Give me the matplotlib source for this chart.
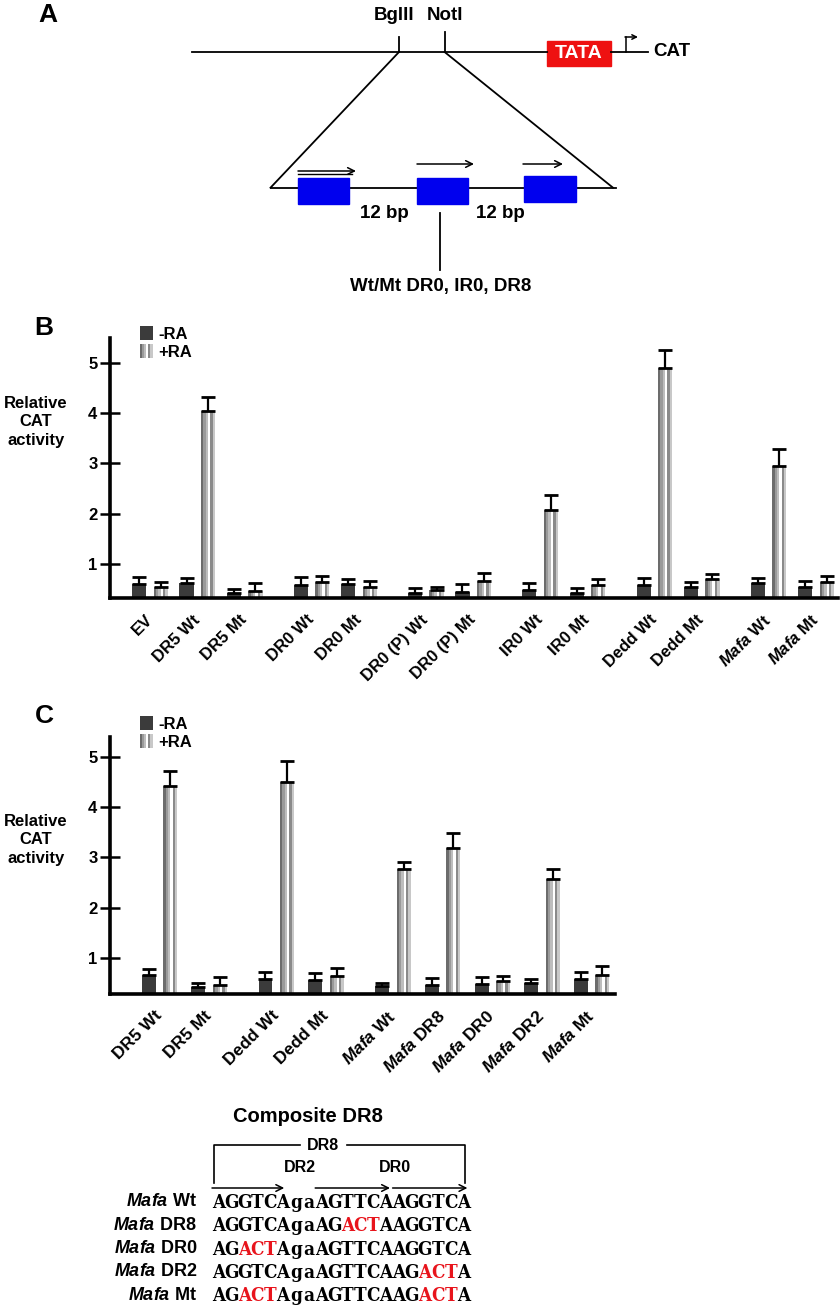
import matplotlib
matplotlib.use('Agg')
import matplotlib.pyplot as plt
from matplotlib.patches import Rectangle, Patch
from matplotlib.legend_handler import HandlerTuple

plt.rcParams['font.family'] = ['Liberation Sans', 'DejaVu Sans']
plt.rcParams['mathtext.fontset'] = 'custom'
plt.rcParams['mathtext.it'] = 'Liberation Sans:italic:bold'
plt.rcParams['mathtext.rm'] = 'Liberation Sans:bold'
plt.rcParams['mathtext.bf'] = 'Liberation Sans:bold'

# ---------------- data ----------------
b_labels = ['EV', 'DR5 Wt', 'DR5 Mt', 'DR0 Wt', 'DR0 Mt', 'DR0 (P) Wt', 'DR0 (P) Mt',
            'IR0 Wt', 'IR0 Mt', 'Dedd Wt', 'Dedd Mt', r'$\mathit{Mafa}$ Wt', r'$\mathit{Mafa}$ Mt']
b_groups = [0, 0, 0, 1, 1, 2, 2, 3, 3, 4, 4, 5, 5]
b_minus = [0.60, 0.62, 0.44, 0.58, 0.60, 0.44, 0.45, 0.48, 0.44, 0.58, 0.54, 0.62, 0.54]
b_minus_err = [0.14, 0.10, 0.07, 0.16, 0.11, 0.08, 0.16, 0.14, 0.08, 0.14, 0.10, 0.11, 0.13]
b_plus = [0.55, 4.04, 0.46, 0.64, 0.55, 0.48, 0.67, 2.08, 0.58, 4.90, 0.71, 2.96, 0.65]
b_plus_err = [0.09, 0.28, 0.17, 0.13, 0.12, 0.06, 0.16, 0.29, 0.13, 0.36, 0.10, 0.33, 0.11]

c_labels = ['DR5 Wt', 'DR5 Mt', 'Dedd Wt', 'Dedd Mt', r'$\mathit{Mafa}$ Wt', r'$\mathit{Mafa}$ DR8',
            r'$\mathit{Mafa}$ DR0', r'$\mathit{Mafa}$ DR2', r'$\mathit{Mafa}$ Mt']
c_groups = [0, 0, 1, 1, 2, 2, 2, 2, 2]
c_minus = [0.66, 0.42, 0.58, 0.56, 0.43, 0.46, 0.48, 0.50, 0.58]
c_minus_err = [0.11, 0.08, 0.14, 0.14, 0.07, 0.13, 0.14, 0.07, 0.13]
c_plus = [4.43, 0.45, 4.51, 0.64, 2.76, 3.19, 0.53, 2.56, 0.65]
c_plus_err = [0.30, 0.17, 0.42, 0.15, 0.14, 0.29, 0.11, 0.20, 0.19]

legend_labels = ['-RA', '+RA']
y_ticks = [1, 2, 3, 4, 5]

seq_names = [r'$\mathit{Mafa}$ Wt', r'$\mathit{Mafa}$ DR8', r'$\mathit{Mafa}$ DR0',
             r'$\mathit{Mafa}$ DR2', r'$\mathit{Mafa}$ Mt']
seqs = ['AGGTCAgaAGTTCAAGGTCA',
        'AGGTCAgaAGACTAAGGTCA',
        'AGACTAgaAGTTCAAGGTCA',
        'AGGTCAgaAGTTCAAGACTA',
        'AGACTAgaAGTTCAAGACTA']

# ---------------- style ----------------
W, H = 840, 1307
DARK = '#3b3b3b'
STRIPES = ['#6c6c6c', '#9a9a9a', '#bdbdbd', '#ffffff', '#8a8a8a', '#c8c8c8']
RED = '#e8141c'
BLUE = '#0000ee'

fig = plt.figure(figsize=(W / 100, H / 100), dpi=100)


def px_axes(left, top, right, bottom, **kw):
    return fig.add_axes([left / W, 1 - bottom / H, (right - left) / W, (bottom - top) / H], **kw)


def bar_panel(ax, labels, groups, minus, minus_err, plus, plus_err, gap, xlim, ylim,
              width, offset, label_size):
    pos = [i + gap * g for i, g in enumerate(groups)]
    xd = [p - offset for p in pos]
    xl = [p + offset for p in pos]
    ax.bar(xd, minus, width=width, color=DARK, zorder=2)
    n = len(STRIPES)
    for k, col in enumerate(STRIPES):
        ax.bar([x - width / 2 + k * width / n for x in xl], plus, width=width / n,
               align='edge', color=col, linewidth=0, zorder=2)
    zeros = [0] * len(pos)
    ax.errorbar(xd, minus, yerr=[zeros, minus_err], fmt='none', ecolor='black',
                elinewidth=1.6, capsize=5, capthick=2, zorder=3)
    ax.errorbar(xl, plus, yerr=[zeros, plus_err], fmt='none', ecolor='black',
                elinewidth=1.6, capsize=5, capthick=2, zorder=3)
    ax.set_xlim(*xlim)
    ax.set_ylim(*ylim)
    for s in ['top', 'right']:
        ax.spines[s].set_visible(False)
    for s in ['left', 'bottom']:
        ax.spines[s].set_linewidth(2.6)
    ax.set_yticks(y_ticks)
    ax.set_yticklabels([str(t) for t in y_ticks], fontsize=12, fontweight='bold')
    ax.tick_params(axis='y', direction='inout', length=14, width=1.8, pad=2)
    ax.set_xticks(pos)
    ax.set_xticklabels(labels, rotation=45, ha='right', va='center', rotation_mode='anchor',
                       fontsize=label_size, fontweight='bold')
    ax.tick_params(axis='x', length=0, pad=14)
    ax.set_facecolor('none')
    handles = [Patch(facecolor=DARK, edgecolor='none'),
               tuple(Patch(facecolor=c, edgecolor='none') for c in STRIPES)]
    return handles


def add_legend(ax, handles, top_px):
    ax.legend(handles, legend_labels, handler_map={tuple: HandlerTuple(ndivide=None, pad=0)},
              loc='upper left', bbox_to_anchor=(140 / W, 1 - top_px / H),
              bbox_transform=fig.transFigure, frameon=False,
              prop={'weight': 'bold', 'size': 12}, handlelength=0.75, handleheight=0.9,
              handletextpad=0.35, labelspacing=0.15, borderaxespad=0, borderpad=0)


# ---------------- panel B ----------------
axB = px_axes(110, 338, 838, 598)
hB = bar_panel(axB, b_labels, b_groups, b_minus, b_minus_err, b_plus, b_plus_err,
               gap=0.413, xlim=(-0.844, 14.53), ylim=(0.331, 5.49), width=0.30, offset=0.227,
               label_size=12)
add_legend(axB, hB, 326)

# ---------------- panel C ----------------
axC = px_axes(110, 737, 615, 994)
hC = bar_panel(axC, c_labels, c_groups, c_minus, c_minus_err, c_plus, c_plus_err,
               gap=0.35, xlim=(-0.996, 9.17), ylim=(0.277, 5.4), width=0.28, offset=0.216,
               label_size=12.5)
add_legend(axC, hC, 716)

# ---------------- overlay (diagram, labels, sequences) ----------------
ov = fig.add_axes([0, 0, 1, 1], zorder=-1)
ov.set_xlim(0, W)
ov.set_ylim(H, 0)
ov.axis('off')

narrow = ['Liberation Sans Narrow', 'Liberation Sans', 'DejaVu Sans']

# panel letters and y labels
for letter, (x, y) in zip(['A', 'B', 'C'], [(48, 15), (44, 328), (44, 716)]):
    ov.text(x, y, letter, fontsize=19, fontweight='bold', ha='center', va='center')
for yc in [422, 840]:
    ov.text(36, yc, 'Relative\nCAT\nactivity', fontsize=12, fontweight='bold', ha='center',
            va='center', linespacing=1.25)

# panel A
lw = 1.3
ov.plot([192, 547], [52, 52], color='black', lw=lw)
ov.plot([611, 648], [52, 52], color='black', lw=lw)
ov.add_patch(Rectangle((547, 41), 64, 25, color='#ee1111'))
ov.text(579, 54, 'TATA', color='white', fontsize=14, fontweight='bold', ha='center', va='center',
        family=narrow)
ov.plot([625.5, 625.5], [52, 37], color='black', lw=1.1)
ov.annotate('', xy=(638, 37), xytext=(625, 37),
            arrowprops=dict(arrowstyle='->', lw=1.1, color='black', shrinkA=0, shrinkB=0,
                            mutation_scale=8))
ov.text(653, 51, 'CAT', fontsize=13.5, fontweight='bold', ha='left', va='center', family=narrow)
ov.plot([399, 399], [37, 52], color='black', lw=lw)
ov.plot([444.6, 444.6], [32, 52], color='black', lw=lw)
ov.text(394, 16, 'BglII', fontsize=13.5, fontweight='bold', ha='center', va='center', family=narrow)
ov.text(444.6, 16, 'NotI', fontsize=13.5, fontweight='bold', ha='center', va='center', family=narrow)
ov.plot([399, 270.5], [52, 187.7], color='black', lw=lw)
ov.plot([444.6, 613], [52, 187.7], color='black', lw=lw)
ov.plot([270.5, 616], [187.7, 187.7], color='black', lw=lw)
for (x0, x1, y0, y1) in [(298, 349, 178, 204), (417, 468, 178, 204), (524, 576, 176, 202)]:
    ov.add_patch(Rectangle((x0, y0), x1 - x0, y1 - y0, color=BLUE, zorder=3))
for (x0, x1, y) in [(298, 356, 171), (417, 474, 164), (523, 563, 164)]:
    ov.annotate('', xy=(x1, y), xytext=(x0, y),
                arrowprops=dict(arrowstyle='->', lw=1.1, color='black', shrinkA=0, shrinkB=0,
                                mutation_scale=12))
ov.plot([298, 352], [174, 174], color='black', lw=1.0)
ov.text(384, 213, '12 bp', fontsize=13.5, fontweight='bold', ha='center', va='center', family=narrow)
ov.text(500, 213, '12 bp', fontsize=13.5, fontweight='bold', ha='center', va='center', family=narrow)
ov.plot([440, 440], [213, 270], color='black', lw=lw)
ov.text(441, 286, 'Wt/Mt DR0, IR0, DR8', fontsize=13.5, fontweight='bold', ha='center',
        va='center', family=narrow)

# composite DR8
ov.text(308, 1117, 'Composite DR8', fontsize=14.5, fontweight='bold', ha='center', va='center')
x_seq0, pitch = 212.0, 12.9
ov.plot([214, 214, 300], [1183, 1145, 1145], color='black', lw=1.2)
ov.plot([347, 465, 465], [1145, 1145, 1183], color='black', lw=1.2)
ov.text(323, 1145, 'DR8', fontsize=11.5, fontweight='bold', ha='center', va='center')
ov.text(300, 1167, 'DR2', fontsize=11.5, fontweight='bold', ha='center', va='center')
ov.text(395, 1167, 'DR0', fontsize=11.5, fontweight='bold', ha='center', va='center')
for (i0, i1) in [(0, 5.6), (8, 13.8), (14, 19.8)]:
    ov.annotate('', xy=(x_seq0 + i1 * pitch, 1188), xytext=(x_seq0 + i0 * pitch, 1188),
                arrowprops=dict(arrowstyle='->', lw=1.1, color='black', shrinkA=0, shrinkB=0,
                                mutation_scale=12))
row_y0, row_pitch = 1202, 23.3
wt = seqs[0]
for r, (name, s) in enumerate(zip(seq_names, seqs)):
    y = row_y0 + r * row_pitch
    ov.text(197, y, name, fontsize=13, fontweight='bold', ha='right', va='center')
    for i, ch in enumerate(s):
        col = RED if ch != wt[i] else 'black'
        ov.text(x_seq0 + (i + 0.5) * pitch, y + 1, ch, fontsize=13.5, fontweight='bold',
                family='DejaVu Serif', color=col, ha='center', va='center',
                fontstretch='condensed')

fig.savefig('out.png', dpi=100)
